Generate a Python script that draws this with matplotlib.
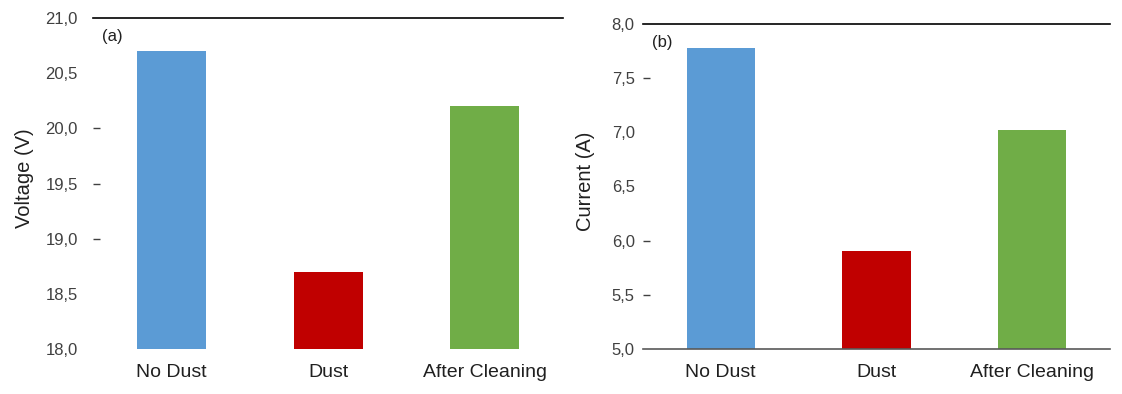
import matplotlib
matplotlib.use("Agg")
import matplotlib.pyplot as plt
from matplotlib.ticker import FuncFormatter

plt.rcParams['font.family'] = ['Liberation Sans', 'DejaVu Sans']

categories = ["No Dust", "Dust", "After Cleaning"]
voltage = [20.7, 18.7, 20.2]
current = [7.78, 5.9, 7.02]
colors = ["#5B9BD5", "#C00000", "#70AD47"]

voltage_ticks = [18.0, 18.5, 19.0, 19.5, 20.0, 20.5, 21.0]
voltage_marks = [19.0, 19.5, 20.0]
current_ticks = [5.0, 5.5, 6.0, 6.5, 7.0, 7.5, 8.0]
current_marks = [5.5, 6.0, 7.5]

comma = FuncFormatter(lambda v, p: f"{v:.1f}".replace(".", ","))

fig = plt.figure(figsize=(11.22, 3.94), dpi=100)
ax1 = fig.add_axes([0.0829, 0.1142, 0.419, 0.840])
ax2 = fig.add_axes([0.5731, 0.1142, 0.416, 0.825])


def style(ax, vals, ticks, marks, ylabel, tag, bottom_line, pad, label_x):
    x = range(len(categories))
    ax.bar(x, [v - ticks[0] for v in vals], bottom=ticks[0], width=0.44,
           color=colors, zorder=2)
    ax.set_xlim(-0.5, 2.5)
    ax.set_ylim(ticks[0], ticks[-1])
    ax.yaxis.remove_overlapping_locs = False
    ax.set_yticks(ticks)
    ax.yaxis.set_major_formatter(comma)
    ax.set_yticks(marks, minor=True)
    ax.tick_params(axis='y', which='major', length=0, pad=pad,
                   labelsize=12, labelcolor='#404040')
    ax.tick_params(axis='y', which='minor', length=5, width=1,
                   direction='in', color='#404040')
    ax.set_xticks(list(x))
    ax.set_xticklabels(categories, fontsize=14, color='#202020')
    ax.tick_params(axis='x', length=0, pad=11)
    for s in ['left', 'right']:
        ax.spines[s].set_visible(False)
    ax.spines['top'].set_color('black')
    ax.spines['top'].set_linewidth(1.2)
    if bottom_line:
        ax.spines['bottom'].set_color('#595959')
        ax.spines['bottom'].set_linewidth(1.2)
    else:
        ax.spines['bottom'].set_visible(False)
    ax.set_ylabel(ylabel, fontsize=14.5, color='#202020')
    ax.yaxis.set_label_coords(label_x, 0.515)
    ax.text(0.02, 0.943, tag, transform=ax.transAxes, fontsize=12,
            color='#202020', va='center')


style(ax1, voltage, voltage_ticks, voltage_marks, "Voltage (V)", "(a)",
      False, 11, -0.126)
style(ax2, current, current_ticks, current_marks, "Current (A)", "(b)",
      True, 6, -0.102)

fig.savefig("out.png", dpi=100)
